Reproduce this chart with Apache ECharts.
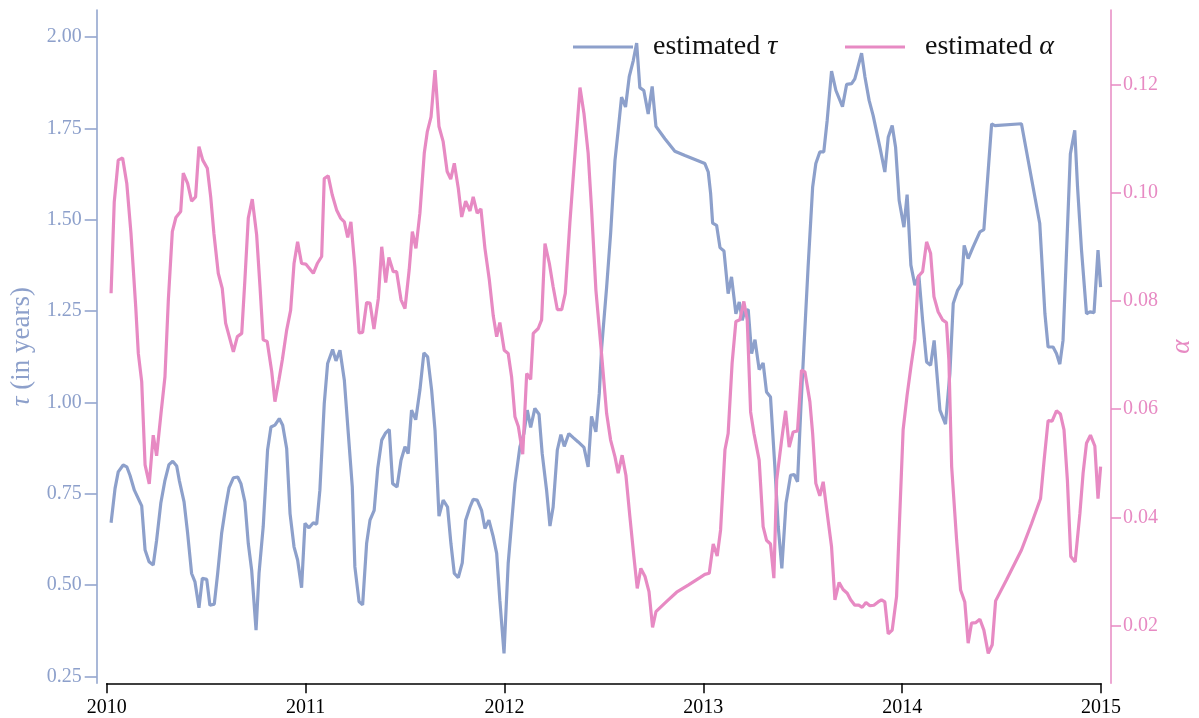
<!DOCTYPE html>
<html>
<head>
<meta charset="utf-8">
<script src="https://cdn.jsdelivr.net/npm/echarts@6/dist/echarts.min.js"></script>
<style>html,body{margin:0;padding:0;background:#fff;}#c{width:1199px;height:718px;}</style>
</head>
<body>
<div id="c"></div>
<script>
const xTickLabels = [2010, 2011, 2012, 2013, 2014, 2015];
const tauTicks = [0.25, 0.50, 0.75, 1.00, 1.25, 1.50, 1.75, 2.00];
const alphaTicks = [0.02, 0.04, 0.06, 0.08, 0.10, 0.12];

const tauYears = [2010.022,2010.042,2010.058,2010.083,2010.101,2010.117,2010.139,2010.176,2010.193,2010.213,2010.234,2010.251,2010.272,2010.293,2010.313,2010.332,2010.352,2010.365,2010.389,2010.407,2010.427,2010.444,2010.464,2010.481,2010.503,2010.519,2010.541,2010.558,2010.578,2010.598,2010.615,2010.637,2010.659,2010.675,2010.695,2010.712,2010.729,2010.751,2010.766,2010.787,2010.809,2010.826,2010.846,2010.868,2010.885,2010.905,2010.922,2010.942,2010.960,2010.980,2010.997,2011.017,2011.039,2011.056,2011.072,2011.094,2011.111,2011.136,2011.153,2011.173,2011.195,2011.215,2011.235,2011.248,2011.269,2011.287,2011.307,2011.324,2011.345,2011.363,2011.383,2011.403,2011.421,2011.438,2011.460,2011.480,2011.500,2011.516,2011.533,2011.554,2011.575,2011.595,2011.614,2011.634,2011.651,2011.671,2011.692,2011.714,2011.731,2011.748,2011.768,2011.788,2011.805,2011.827,2011.843,2011.863,2011.885,2011.902,2011.922,2011.944,2011.961,2011.977,2011.998,2012.019,2012.053,2012.078,2012.098,2012.115,2012.132,2012.153,2012.174,2012.190,2012.212,2012.229,2012.245,2012.266,2012.284,2012.301,2012.324,2012.346,2012.371,2012.400,2012.421,2012.438,2012.460,2012.477,2012.489,2012.514,2012.534,2012.556,2012.572,2012.589,2012.609,2012.628,2012.648,2012.665,2012.681,2012.701,2012.723,2012.743,2012.762,2012.807,2012.857,2012.908,2012.958,2013.008,2013.025,2013.037,2013.047,2013.067,2013.084,2013.104,2013.125,2013.142,2013.164,2013.181,2013.196,2013.209,2013.226,2013.243,2013.260,2013.281,2013.301,2013.318,2013.338,2013.360,2013.377,2013.395,2013.416,2013.439,2013.457,2013.474,2013.491,2013.506,2013.527,2013.550,2013.566,2013.586,2013.606,2013.623,2013.645,2013.667,2013.700,2013.721,2013.746,2013.762,2013.796,2013.813,2013.834,2013.854,2013.888,2013.913,2013.930,2013.950,2013.967,2013.985,2014.009,2014.025,2014.044,2014.064,2014.084,2014.103,2014.123,2014.143,2014.161,2014.190,2014.218,2014.240,2014.257,2014.279,2014.299,2014.312,2014.332,2014.357,2014.391,2014.411,2014.450,2014.466,2014.600,2014.692,2014.718,2014.734,2014.759,2014.776,2014.793,2014.809,2014.823,2014.846,2014.868,2014.882,2014.902,2014.927,2014.944,2014.965,2014.985,2014.998];
const tauValues = [0.671,0.765,0.810,0.829,0.824,0.801,0.760,0.717,0.596,0.564,0.555,0.623,0.724,0.787,0.830,0.839,0.826,0.787,0.728,0.642,0.532,0.509,0.438,0.519,0.516,0.445,0.448,0.532,0.642,0.714,0.766,0.794,0.796,0.778,0.728,0.614,0.541,0.377,0.532,0.660,0.870,0.933,0.938,0.956,0.938,0.874,0.696,0.605,0.569,0.493,0.669,0.657,0.671,0.667,0.760,0.997,1.107,1.145,1.114,1.143,1.061,0.915,0.769,0.550,0.455,0.446,0.614,0.678,0.705,0.820,0.897,0.917,0.926,0.778,0.769,0.842,0.879,0.860,0.979,0.953,1.034,1.136,1.125,1.034,0.924,0.689,0.733,0.714,0.614,0.532,0.521,0.561,0.678,0.714,0.735,0.733,0.705,0.655,0.678,0.632,0.587,0.459,0.313,0.560,0.778,0.879,0.915,0.979,0.932,0.984,0.968,0.860,0.760,0.662,0.714,0.870,0.912,0.880,0.915,0.904,0.892,0.877,0.824,0.962,0.920,1.025,1.150,1.316,1.462,1.663,1.745,1.836,1.809,1.893,1.936,1.984,1.862,1.854,1.790,1.865,1.756,1.722,1.688,1.676,1.665,1.654,1.631,1.572,1.491,1.485,1.424,1.415,1.298,1.344,1.243,1.275,1.225,1.252,1.254,1.134,1.172,1.090,1.108,1.029,1.015,0.824,0.660,0.546,0.724,0.801,0.803,0.783,0.988,1.150,1.370,1.590,1.654,1.686,1.686,1.772,1.907,1.854,1.810,1.871,1.873,1.886,1.956,1.891,1.827,1.786,1.699,1.631,1.726,1.758,1.699,1.553,1.480,1.569,1.376,1.321,1.348,1.225,1.111,1.102,1.170,0.979,0.941,1.079,1.271,1.307,1.325,1.430,1.394,1.426,1.467,1.473,1.763,1.758,1.763,1.490,1.243,1.152,1.152,1.134,1.105,1.170,1.362,1.681,1.745,1.590,1.417,1.243,1.248,1.246,1.417,1.316];

const alphaYears = [2010.022,2010.038,2010.058,2010.080,2010.101,2010.122,2010.146,2010.159,2010.176,2010.193,2010.214,2010.234,2010.251,2010.273,2010.293,2010.310,2010.330,2010.348,2010.372,2010.385,2010.407,2010.427,2010.447,2010.464,2010.483,2010.506,2010.523,2010.539,2010.561,2010.581,2010.598,2010.637,2010.657,2010.679,2010.695,2010.712,2010.732,2010.754,2010.771,2010.787,2010.807,2010.830,2010.846,2010.866,2010.883,2010.905,2010.925,2010.942,2010.960,2010.980,2011.001,2011.039,2011.059,2011.081,2011.094,2011.114,2011.134,2011.156,2011.176,2011.195,2011.212,2011.228,2011.248,2011.269,2011.287,2011.307,2011.324,2011.344,2011.366,2011.383,2011.403,2011.419,2011.441,2011.458,2011.480,2011.500,2011.521,2011.537,2011.555,2011.575,2011.597,2011.612,2011.631,2011.651,2011.671,2011.692,2011.712,2011.730,2011.748,2011.768,2011.785,2011.805,2011.827,2011.843,2011.863,2011.882,2011.902,2011.924,2011.944,2011.961,2011.977,2011.999,2012.019,2012.036,2012.053,2012.070,2012.092,2012.112,2012.132,2012.145,2012.170,2012.187,2012.204,2012.226,2012.245,2012.266,2012.288,2012.306,2012.329,2012.350,2012.380,2012.400,2012.421,2012.438,2012.460,2012.489,2012.514,2012.534,2012.556,2012.572,2012.592,2012.611,2012.631,2012.651,2012.668,2012.686,2012.707,2012.727,2012.745,2012.762,2012.816,2012.866,2012.924,2012.983,2013.008,2013.030,2013.050,2013.070,2013.087,2013.109,2013.125,2013.145,2013.164,2013.184,2013.204,2013.221,2013.238,2013.255,2013.281,2013.301,2013.318,2013.338,2013.355,2013.369,2013.394,2013.414,2013.432,2013.452,2013.474,2013.494,2013.511,2013.536,2013.550,2013.566,2013.586,2013.603,2013.623,2013.645,2013.662,2013.683,2013.703,2013.724,2013.741,2013.762,2013.782,2013.799,2013.818,2013.838,2013.858,2013.879,2013.896,2013.913,2013.930,2013.950,2013.972,2013.985,2014.005,2014.025,2014.044,2014.064,2014.081,2014.103,2014.123,2014.143,2014.160,2014.181,2014.203,2014.223,2014.235,2014.249,2014.274,2014.294,2014.315,2014.332,2014.349,2014.371,2014.391,2014.411,2014.433,2014.453,2014.470,2014.525,2014.600,2014.651,2014.696,2014.714,2014.734,2014.754,2014.776,2014.796,2014.814,2014.831,2014.848,2014.870,2014.894,2014.910,2014.927,2014.947,2014.969,2014.985,2014.998];
const alphaValues = [0.0814,0.0983,0.1060,0.1064,0.1017,0.0925,0.0789,0.0703,0.0651,0.0497,0.0462,0.0552,0.0514,0.0592,0.0660,0.0802,0.0928,0.0954,0.0965,0.1036,0.1017,0.0984,0.0992,0.1085,0.1060,0.1045,0.0992,0.0925,0.0851,0.0823,0.0759,0.0706,0.0734,0.0740,0.0839,0.0953,0.0988,0.0922,0.0826,0.0728,0.0725,0.0669,0.0614,0.0654,0.0691,0.0746,0.0783,0.0869,0.0909,0.0869,0.0868,0.0851,0.0869,0.0882,0.1026,0.1031,0.0996,0.0968,0.0953,0.0946,0.0917,0.0946,0.0863,0.0741,0.0742,0.0797,0.0796,0.0748,0.0805,0.0900,0.0834,0.0880,0.0854,0.0854,0.0802,0.0786,0.0857,0.0928,0.0897,0.0962,0.1073,0.1112,0.1140,0.1226,0.1122,0.1094,0.1039,0.1025,0.1054,0.1008,0.0955,0.0984,0.0966,0.0992,0.0962,0.0970,0.0897,0.0839,0.0772,0.0734,0.0760,0.0709,0.0703,0.0660,0.0586,0.0568,0.0517,0.0666,0.0655,0.0740,0.0749,0.0765,0.0906,0.0869,0.0826,0.0784,0.0784,0.0814,0.0943,0.1048,0.1194,0.1146,0.1073,0.0971,0.0820,0.0700,0.0592,0.0543,0.0512,0.0482,0.0515,0.0478,0.0401,0.0328,0.0269,0.0306,0.0291,0.0263,0.0197,0.0226,0.0245,0.0262,0.0275,0.0289,0.0295,0.0297,0.0351,0.0329,0.0377,0.0525,0.0555,0.0685,0.0762,0.0765,0.0799,0.0765,0.0595,0.0555,0.0506,0.0383,0.0358,0.0351,0.0288,0.0469,0.0543,0.0597,0.0530,0.0558,0.0560,0.0672,0.0669,0.0614,0.0555,0.0463,0.0440,0.0466,0.0408,0.0346,0.0248,0.0280,0.0267,0.0260,0.0248,0.0238,0.0238,0.0234,0.0243,0.0237,0.0238,0.0244,0.0248,0.0244,0.0185,0.0192,0.0254,0.0377,0.0562,0.0626,0.0678,0.0728,0.0845,0.0854,0.0909,0.0888,0.0808,0.0780,0.0765,0.0760,0.0691,0.0494,0.0358,0.0266,0.0244,0.0168,0.0205,0.0206,0.0212,0.0192,0.0149,0.0165,0.0246,0.0285,0.0340,0.0389,0.0435,0.0506,0.0579,0.0578,0.0597,0.0591,0.0562,0.0469,0.0328,0.0318,0.0408,0.0482,0.0537,0.0552,0.0532,0.0435,0.0494];

const BLUE = '#8da0cb', PINK = '#e78ac3';
const SERIF = '"Liberation Serif", "DejaVu Serif", serif';
const zip = (xs, ys) => xs.map((x, i) => [x, ys[i]]);

const chart = echarts.init(document.getElementById('c'), null, {renderer: 'canvas'});
chart.setOption({
  animation: false,
  backgroundColor: '#fff',
  grid: {left: 106.7, right: 98, top: 10, bottom: 34.7, containLabel: false, outerBoundsMode: 'none'},
  legend: [
    {data: ['estimated τ'], left: 573, top: 33, padding: 0, icon: 'rect', itemWidth: 60, itemHeight: 3,
     formatter: () => 'estimated {i|τ}',
     textStyle: {fontFamily: SERIF, fontSize: 28, color: '#111', padding: [0, 0, 0, 15],
       rich: {i: {fontFamily: SERIF, fontSize: 28, fontStyle: 'italic', color: '#111'}}}},
    {data: ['estimated α'], left: 845, top: 33, padding: 0, icon: 'rect', itemWidth: 60, itemHeight: 3,
     formatter: () => 'estimated {i|α}',
     textStyle: {fontFamily: SERIF, fontSize: 28, color: '#111', padding: [0, 0, 0, 15],
       rich: {i: {fontFamily: SERIF, fontSize: 28, fontStyle: 'italic', color: '#111'}}}}
  ],
  xAxis: {
    type: 'value', min: xTickLabels[0], max: xTickLabels[xTickLabels.length - 1], interval: 1,
    axisLine: {show: true, lineStyle: {color: '#000', width: 1.5}},
    axisTick: {show: true, length: 10, lineStyle: {color: '#000', width: 1.5}},
    axisLabel: {margin: 14, fontFamily: SERIF, fontSize: 20, color: '#000', formatter: v => String(Math.round(v))},
    splitLine: {show: false}
  },
  yAxis: [
    {
      type: 'value', position: 'left', offset: 10, min: 0.2314, max: 2.0744,
      name: '{i|τ} (in years)', nameLocation: 'middle', nameGap: 55,
      nameTextStyle: {fontFamily: SERIF, fontSize: 27, color: BLUE,
        rich: {i: {fontFamily: SERIF, fontSize: 27, fontStyle: 'italic', color: BLUE}}},
      axisLine: {show: true, lineStyle: {color: BLUE, width: 1.5}},
      axisTick: {show: true, length: 12, customValues: tauTicks, lineStyle: {color: BLUE, width: 1.5}},
      axisLabel: {margin: 15, customValues: tauTicks, fontFamily: SERIF, fontSize: 20, color: BLUE, formatter: v => v.toFixed(2)},
      splitLine: {show: false}
    },
    {
      type: 'value', position: 'right', offset: 10, min: 0.00938, max: 0.13372,
      name: 'α', nameLocation: 'middle', nameGap: 57,
      nameTextStyle: {fontFamily: SERIF, fontSize: 27, fontStyle: 'italic', color: PINK},
      axisLine: {show: true, lineStyle: {color: PINK, width: 1.5}},
      axisTick: {show: true, length: 10, customValues: alphaTicks, lineStyle: {color: PINK, width: 1.5}},
      axisLabel: {margin: 12, customValues: alphaTicks, fontFamily: SERIF, fontSize: 20, color: PINK, formatter: v => v.toFixed(2)},
      splitLine: {show: false}
    }
  ],
  series: [
    {name: 'estimated τ', type: 'line', yAxisIndex: 0, data: zip(tauYears, tauValues), showSymbol: false,
     lineStyle: {color: BLUE, width: 3.2}, itemStyle: {color: BLUE}, z: 2},
    {name: 'estimated α', type: 'line', yAxisIndex: 1, data: zip(alphaYears, alphaValues), showSymbol: false,
     lineStyle: {color: PINK, width: 3.2}, itemStyle: {color: PINK}, z: 3}
  ]
});
</script>
</body>
</html>
